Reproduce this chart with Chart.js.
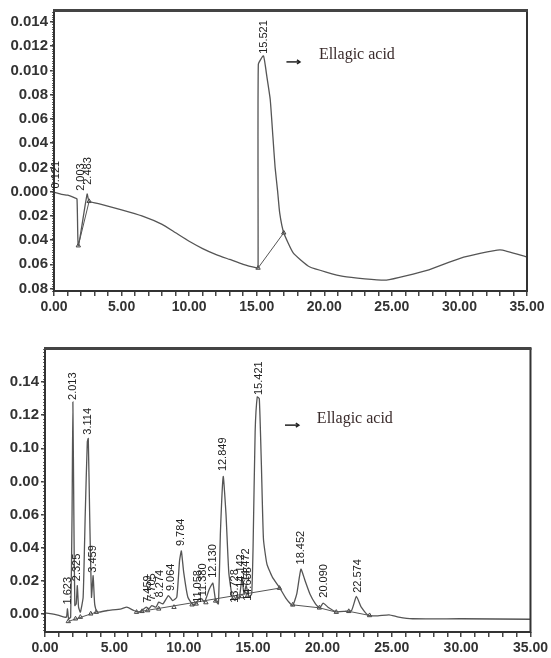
<!DOCTYPE html>
<html>
<head>
<meta charset="utf-8">
<script src="https://cdn.jsdelivr.net/npm/chart.js@4"></script>
<style>
  html, body { margin: 0; padding: 0; background: #fff; }
  #wrap { position: relative; width: 551px; height: 658px; }
  .box { position: absolute; left: 0; width: 551px; }
  #topBox { top: 0; height: 330px; }
  #botBox { top: 330px; height: 328px; }
</style>
</head>
<body>
<div id="wrap">
  <div class="box" id="topBox"><canvas id="topChart"></canvas></div>
  <div class="box" id="botBox"><canvas id="botChart"></canvas></div>
</div>
<script>
// --- DANE: chromatogram górny (standard) ---
const topTimes  = [0, 0.5, 1.0, 1.5, 1.7, 1.8, 2.45, 2.6, 3.5, 5.0, 6.5, 8.0, 9.0, 10.0, 11.0, 12.0, 13.0, 14.0, 15.0, 15.1,
                   15.12, 15.5, 15.75, 16.0, 16.2, 16.36, 16.55, 16.7, 17.0, 17.7, 18.9, 21.4, 24.6, 27.6, 30.05, 33.0, 35.0];
const topSignal = [-0.0005, -0.002, -0.003, -0.005, -0.006, -0.0446, -0.002, -0.008, -0.0105, -0.015, -0.020, -0.027, -0.034, -0.041, -0.047, -0.052, -0.056, -0.060, -0.063, -0.063,
                   0.105, 0.112, 0.095, 0.076, 0.045, 0.020, 0.0, -0.0176, -0.034, -0.0506, -0.062, -0.070, -0.073, -0.065, -0.055, -0.048, -0.054];
const topBaselines = [[[1.8, -0.0446], [2.6, -0.008]], [[15.1, -0.063], [17.0, -0.034]]];
const topMarkers = [[1.8, -0.0446], [2.6, -0.008], [15.1, -0.063], [17.0, -0.034]];
const topPeakNames = ['0.121', '2.003', '2.483', '15.521'];
const topPeakTops  = [0.001, -0.001, 0.004, 0.112];
const topYTicks  = [-0.08, -0.06, -0.04, -0.02, 0, 0.02, 0.04, 0.06, 0.08, 0.10, 0.12, 0.14];
const topYLabels = ['0.08', '0.06', '0.04', '0.02', '0.000', '0.02', '0.04', '0.06', '0.08', '0.010', '0.012', '0.014'];

// --- DANE: chromatogram dolny (próbka) ---
const botTimes  = [0, 0.5, 1.0, 1.4, 1.55, 1.62, 1.7, 1.85, 1.95, 2.01, 2.08, 2.15, 2.25, 2.33, 2.42, 2.55, 2.75, 2.9, 3.05, 3.12,
                   3.22, 3.35, 3.47, 3.58, 3.75, 4.5, 5.5, 5.9, 6.4, 6.8, 7.3, 7.5, 7.7, 8.0, 8.2, 8.5, 8.9, 9.2, 9.5, 9.7,
                   9.83, 10.0, 10.3, 10.7, 10.95, 11.1, 11.3, 11.5, 11.85, 12.1, 12.3, 12.5, 12.65, 12.85, 13.05, 13.25, 13.5, 13.7, 13.85, 14.0,
                   14.2, 14.35, 14.5, 14.7, 14.9, 15.0, 15.15, 15.3, 15.45, 15.6, 15.75, 16.0, 16.4, 16.9, 17.4, 17.85, 18.15, 18.45, 18.75, 19.1,
                   19.5, 19.8, 20.05, 20.4, 21.0, 21.6, 22.1, 22.45, 22.8, 23.3, 24.0, 24.8, 25.5, 26.5, 30.0, 35.0];
const botSignal = [0.0005, 0.0, -0.001, -0.002, -0.002, 0.003, -0.003, -0.002, 0.06, 0.128, 0.06, 0.005, 0.006, 0.017, 0.004, 0.001, 0.01, 0.06, 0.104, 0.106,
                   0.06, 0.01, 0.023, 0.006, 0.001, 0.002, 0.003, 0.004, 0.002, 0.001, 0.004, 0.003, 0.005, 0.004, 0.007, 0.006, 0.011, 0.008, 0.010, 0.032,
                   0.038, 0.025, 0.010, 0.005, 0.007, 0.009, 0.009, 0.007, 0.015, 0.0185, 0.008, 0.006, 0.05, 0.083, 0.06, 0.025, 0.010, 0.008, 0.011, 0.009,
                   0.021, 0.012, 0.017, 0.010, 0.012, 0.04, 0.11, 0.131, 0.13, 0.09, 0.045, 0.030, 0.022, 0.016, 0.009, 0.005, 0.012, 0.027, 0.020, 0.012,
                   0.006, 0.0035, 0.0065, 0.004, 0.0012, 0.0015, 0.002, 0.0105, 0.004, -0.001, -0.0012, -0.0006, -0.002, -0.003, -0.003, -0.0033];
const botBaselines = [[[1.68, -0.0046], [3.7, 0.001]], [[6.6, 0.001], [16.9, 0.0155]],
                      [[17.86, 0.0054], [19.78, 0.0036]], [[19.78, 0.0036], [21.0, 0.001]], [[21.9, 0.0015], [23.4, -0.001]]];
const botMarkers = [[1.68, -0.0046], [2.2, -0.003], [2.55, -0.002], [3.3, 0.0], [3.7, 0.001], [6.6, 0.001], [7.0, 0.0015], [7.4, 0.002],
                    [8.2, 0.003], [9.3, 0.004], [10.6, 0.0055], [10.9, 0.006], [11.6, 0.0068], [12.3, 0.0078], [13.6, 0.0096], [14.2, 0.0105],
                    [14.6, 0.011], [16.9, 0.0155], [17.86, 0.0054], [19.78, 0.0036], [21.0, 0.001], [21.9, 0.0015], [23.4, -0.001]];
const botPeakNames = ['1.623', '2.013', '2.325', '3.114', '3.459', '7.459', '7.705', '8.274', '9.064', '9.784', '11.058', '11.380',
                      '12.130', '12.849', '13.728', '14.142', '14.472', '14.658', '15.421', '18.452', '20.090', '22.574'];
const botPeakTops  = [0.0044, 0.128, 0.0185, 0.107, 0.0236, 0.0054, 0.0066, 0.0087, 0.0125, 0.0397, 0.0054, 0.0094,
                      0.0205, 0.085, 0.0054, 0.0145, 0.018, 0.0066, 0.131, 0.0286, 0.0085, 0.0115];
const botYTicks  = [0, 0.02, 0.04, 0.06, 0.08, 0.10, 0.12, 0.14];
const botYLabels = ['0.00', '0.02', '0.04', '0.06', '0.00', '0.10', '0.12', '0.14'];

// wspólne dla osi X
const xTickLabels = ['0.00', '5.00', '10.00', '15.00', '20.00', '25.00', '30.00', '35.00'];

Chart.defaults.font.family = '"Liberation Sans", Arial, sans-serif';
Chart.defaults.color = '#333';

const LINE = '#555';

function pairs(xs, ys) {
    return xs.map((t, i) => ({ x: t, y: ys[i] }));
}

function buildDatasets(times, signal, baselines, markers) {
    const sets = [{
        data: pairs(times, signal),
        showLine: true,
        borderColor: LINE,
        borderWidth: 1.3,
        pointRadius: 0,
        tension: 0.15
    }];
    baselines.forEach(seg => {
        sets.push({
            data: seg.map(p => ({ x: p[0], y: p[1] })),
            showLine: true,
            borderColor: LINE,
            borderWidth: 1,
            pointRadius: 0
        });
    });
    sets.push({
        data: markers.map(p => ({ x: p[0], y: p[1] })),
        showLine: false,
        pointStyle: 'triangle',
        pointRadius: 2.5,
        borderColor: '#444',
        backgroundColor: '#fff',
        borderWidth: 1
    });
    return sets;
}

// rysowanie ramki, drobnych ticków, etykiet pików i podpisu
function decor(peakNames, peakTops, note) {
    return {
        id: 'decor',
        afterDraw(chart) {
            const { ctx, chartArea: a, scales: { x, y } } = chart;
            ctx.save();

            // drobne ticki na osi Y
            ctx.strokeStyle = '#666';
            ctx.lineWidth = 1;
            const lo = Math.ceil(y.min / 0.002), hi = Math.floor(y.max / 0.002);
            for (let k = lo; k <= hi; k++) {
                const py = Math.round(y.getPixelForValue(k * 0.002)) + 0.5;
                ctx.beginPath();
                ctx.moveTo(a.left - 2, py);
                ctx.lineTo(a.left, py);
                ctx.stroke();
            }

            // ramka
            ctx.strokeStyle = '#333';
            ctx.lineWidth = 2;
            ctx.strokeRect(a.left, a.top, a.width, a.height);
            ctx.fillStyle = '#444';
            ctx.fillRect(a.left - 1, a.top - 2, a.width + 2, 3);

            // etykiety pików (obrócone)
            ctx.fillStyle = '#222';
            ctx.font = '11px "Liberation Sans", Arial, sans-serif';
            ctx.textAlign = 'left';
            ctx.textBaseline = 'middle';
            peakNames.forEach((name, i) => {
                const px = x.getPixelForValue(parseFloat(name));
                const py = y.getPixelForValue(peakTops[i]);
                ctx.save();
                ctx.translate(px, py - 2);
                ctx.rotate(-Math.PI / 2);
                ctx.fillText(name, 0, 0);
                ctx.restore();
            });

            // strzałka + "Ellagic acid"
            const ax1 = x.getPixelForValue(note.arrow[0]);
            const ax2 = x.getPixelForValue(note.arrow[1]);
            const ay = y.getPixelForValue(note.arrow[2]);
            ctx.strokeStyle = '#222';
            ctx.lineWidth = 1.5;
            ctx.beginPath();
            ctx.moveTo(ax1, ay);
            ctx.lineTo(ax2, ay);
            ctx.stroke();
            ctx.beginPath();
            ctx.moveTo(ax2 - 3, ay - 2);
            ctx.lineTo(ax2, ay);
            ctx.lineTo(ax2 - 3, ay + 2);
            ctx.stroke();

            ctx.fillStyle = '#3a2b2b';
            ctx.font = '16px "Liberation Serif", "Times New Roman", serif';
            ctx.textBaseline = 'middle';
            ctx.fillText(note.text, x.getPixelForValue(note.at[0]), y.getPixelForValue(note.at[1]));
            ctx.restore();
        }
    };
}

function makeChart(canvasId, cfg) {
    return new Chart(document.getElementById(canvasId), {
        type: 'scatter',
        data: { datasets: buildDatasets(cfg.times, cfg.signal, cfg.baselines, cfg.markers) },
        options: {
            responsive: true,
            maintainAspectRatio: false,
            animation: false,
            layout: { padding: cfg.padding },
            plugins: { legend: { display: false }, tooltip: { enabled: false } },
            scales: {
                x: {
                    type: 'linear',
                    min: 0,
                    max: 35,
                    afterBuildTicks: s => { s.ticks = Array.from({ length: 36 }, (_, i) => ({ value: i })); },
                    afterFit: s => { s.height = cfg.xHeight; },
                    ticks: {
                        autoSkip: false,
                        maxRotation: 0,
                        padding: 3,
                        font: { size: 14, weight: 'bold' },
                        color: '#333',
                        callback: v => (v % 5 === 0 ? xTickLabels[v / 5] : '')
                    },
                    grid: { drawOnChartArea: false, tickLength: 5, color: '#444', lineWidth: 1.5 },
                    border: { display: false }
                },
                y: {
                    type: 'linear',
                    min: cfg.yMin,
                    max: cfg.yMax,
                    afterBuildTicks: s => { s.ticks = cfg.yTicks.map(v => ({ value: v })); },
                    afterFit: s => { s.width = cfg.yWidth; },
                    ticks: {
                        padding: 2,
                        font: { size: 15, weight: 'bold' },
                        color: '#333',
                        callback: (v, i) => cfg.yLabels[i]
                    },
                    grid: { drawOnChartArea: false, tickLength: 4, color: '#444', lineWidth: 1.5 },
                    border: { display: false }
                }
            }
        },
        plugins: [decor(cfg.peakNames, cfg.peakTops, cfg.note)]
    });
}

makeChart('topChart', {
    times: topTimes, signal: topSignal, baselines: topBaselines, markers: topMarkers,
    peakNames: topPeakNames, peakTops: topPeakTops,
    yTicks: topYTicks, yLabels: topYLabels,
    yMin: -0.082, yMax: 0.149,
    padding: { top: 11, right: 24, left: 0, bottom: 0 },
    xHeight: 39, yWidth: 54,
    note: { arrow: [17.2, 18.2, 0.107], at: [19.6, 0.113], text: 'Ellagic acid' }
});

makeChart('botChart', {
    times: botTimes, signal: botSignal, baselines: botBaselines, markers: botMarkers,
    peakNames: botPeakNames, peakTops: botPeakTops,
    yTicks: botYTicks, yLabels: botYLabels,
    yMin: -0.011, yMax: 0.16,
    padding: { top: 19, right: 19, left: 0, bottom: 0 },
    xHeight: 26, yWidth: 45,
    note: { arrow: [17.3, 18.3, 0.114], at: [19.6, 0.118], text: 'Ellagic acid' }
});
</script>
</body>
</html>
